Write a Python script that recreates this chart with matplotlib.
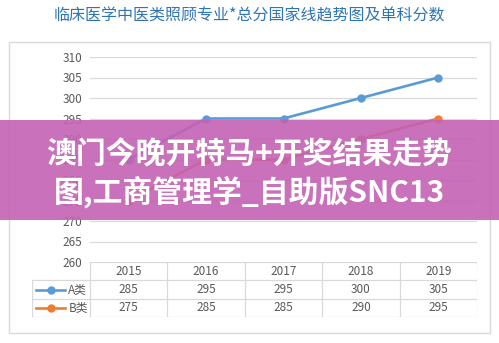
import matplotlib
matplotlib.use("AGG")
import matplotlib.pyplot as plt
from matplotlib.patches import Rectangle

plt.rcParams['font.family'] = ['Noto Sans CJK SC', 'DejaVu Sans']

title = "临床医学中医类照顾专业*总分国家线趋势图及单科分数"
years = ['2015', '2016', '2017', '2018', '2019']
series_names = ['A类', 'B类']
score_a = [285, 295, 295, 300, 305]
score_b = [275, 285, 285, 290, 295]
y_ticks = [260, 265, 270, 275, 280, 285, 290, 295, 300, 305, 310]
banner_lines = ["澳门今晚开特马+开奖结果走势", "图,工商管理学_自助版SNC13"]

line_colors = ['#5b9bd5', '#ed7d31']
grid_c = '#d9d9d9'
text_c = '#595959'

W, H = 499, 343
fig = plt.figure(figsize=(W / 100, H / 100), dpi=100)

def fx(px):
    return px / W

def fy(py):
    return 1 - py / H

# outer chart frame
fig.patches.append(Rectangle((fx(9), fy(333)), fx(490) - fx(9), fy(42) - fy(333),
                             transform=fig.transFigure, fill=False,
                             edgecolor=grid_c, linewidth=1, zorder=0))

fig.text(0.5, fy(16), title, ha='center', va='center', fontsize=11.5, color='#2f75b5')

# line plot area
ax = fig.add_axes([fx(90), fy(262), fx(477) - fx(90), fy(57) - fy(262)])
x = list(range(len(years)))
for vals, c in zip([score_a, score_b], line_colors):
    ax.plot(x, vals, color=c, linewidth=1.9, marker='o', markersize=5, zorder=3)
ax.set_xlim(-0.5, len(years) - 0.5)
ax.set_ylim(y_ticks[0], y_ticks[-1])
ax.set_yticks(y_ticks)
ax.set_xticks([])
ax.tick_params(axis='y', length=0, pad=5.5, labelsize=8.5, labelcolor=text_c)
for yt in y_ticks[1:]:
    ax.axhline(yt, color=grid_c, linewidth=0.9, zorder=1)
for s in ax.spines.values():
    s.set_visible(False)
ax.patch.set_alpha(0)

# data table under the plot
tax = fig.add_axes([fx(32), fy(317), fx(477) - fx(32), fy(262) - fy(317)])
tax.set_xlim(-1.25, len(years) - 0.5)
tax.set_ylim(3, 0)
tax.axis('off')
lw = 0.9
# horizontal rules
tax.plot([-0.5, len(years) - 0.5], [0, 0], color=grid_c, lw=lw)
for r in [1, 2, 3]:
    tax.plot([-1.25, len(years) - 0.5], [r, r], color=grid_c, lw=lw)
# vertical rules
tax.plot([-1.25, -1.25], [1, 3], color=grid_c, lw=lw)
for cx in [i - 0.5 for i in range(len(years) + 1)]:
    tax.plot([cx, cx], [0, 3], color=grid_c, lw=lw)
for i, yr in enumerate(years):
    tax.text(i, 0.5, yr, ha='center', va='center', fontsize=8.5, color=text_c)
for r, (name, vals, c) in enumerate(zip(series_names, [score_a, score_b], line_colors), start=1):
    tax.plot([-1.2, -0.82], [r + 0.5, r + 0.5], color=c, lw=1.9)
    tax.plot([-1.01], [r + 0.5], color=c, marker='o', markersize=5)
    tax.text(-0.78, r + 0.5, name, ha='left', va='center', fontsize=8.5, color=text_c)
    for i, v in enumerate(vals):
        tax.text(i, r + 0.5, str(v), ha='center', va='center', fontsize=8.5, color=text_c)

# translucent banner across the middle
fig.patches.append(Rectangle((0, fy(220)), 1, fy(120) - fy(220), transform=fig.transFigure,
                             facecolor='#c362b3', alpha=0.9, edgecolor='none', zorder=5))
for line, py in zip(banner_lines, [154, 192]):
    fig.text(0.5, fy(py), line, ha='center', va='center', fontsize=21.5,
             fontweight='bold', color='white', zorder=6)

fig.savefig('out.png', dpi=100)
